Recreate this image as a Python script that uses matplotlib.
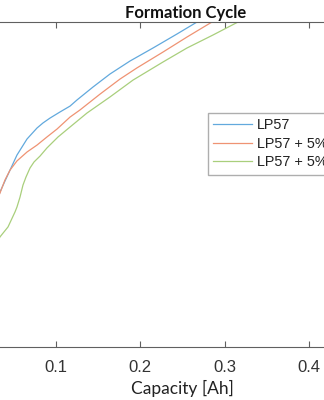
import matplotlib
matplotlib.use("Agg")
import matplotlib.pyplot as plt

# Capacity [Ah] and voltage [V]
cap_lp57 = [0.0225, 0.0343, 0.0402, 0.0462, 0.0544, 0.0663, 0.0781, 0.0852, 0.0935,
            0.1053, 0.1172, 0.1254, 0.1444, 0.1645, 0.1882, 0.2154, 0.2438, 0.2675, 0.2828]
v_lp57 = [3.215, 3.363, 3.417, 3.471, 3.545, 3.624, 3.678, 3.703, 3.727,
          3.757, 3.786, 3.816, 3.880, 3.944, 4.008, 4.072, 4.141, 4.200, 4.234]

cap_a = [0.0225, 0.0343, 0.0402, 0.0462, 0.0544, 0.0663, 0.0781, 0.0899, 0.1018,
         0.1172, 0.1290, 0.1527, 0.1763, 0.1964, 0.2272, 0.2556, 0.2852, 0.3006]
v_a = [3.250, 3.358, 3.422, 3.471, 3.516, 3.560, 3.594, 3.634, 3.673,
       3.732, 3.767, 3.845, 3.919, 3.974, 4.052, 4.126, 4.200, 4.234]

cap_b = [0.0225, 0.0343, 0.0438, 0.0521, 0.0544, 0.0580, 0.0615, 0.0651, 0.0698,
         0.0746, 0.0817, 0.0899, 0.1030, 0.1172, 0.1373, 0.1645, 0.1917, 0.2272,
         0.2556, 0.2864, 0.3160, 0.3302]
v_b = [3.053, 3.142, 3.191, 3.265, 3.289, 3.338, 3.397, 3.437, 3.481,
       3.511, 3.540, 3.580, 3.634, 3.683, 3.752, 3.831, 3.914, 4.003,
       4.072, 4.136, 4.200, 4.230]

labels = ["LP57", "LP57 + 5% FEC", "LP57 + 5% VC"]
colors = ["#62a9dd", "#ef9373", "#a9cf7c"]
xticks = [0.1, 0.2, 0.3, 0.4]

W, H = 324, 400
fig = plt.figure(figsize=(W / 100, H / 100), dpi=100)
# axes extends beyond the visible (cropped) region
left_px, right_px, top_px, bot_px = -29, -29 + 845 * 0.5, 22, 347
ax = fig.add_axes([left_px / W, 1 - bot_px / H, (right_px - left_px) / W, (bot_px - top_px) / H])

for c, v, lab, col in zip([cap_lp57, cap_a, cap_b], [v_lp57, v_a, v_b], labels, colors):
    ax.plot(c, v, color=col, lw=0.9, label=lab)

ax.set_xlim(0, 0.5)
ax.set_ylim(2.6, 4.2)
ax.set_xticks(xticks)
ax.set_xticklabels([f"{t:.1f}" for t in xticks])
ax.set_yticks([])
ax.tick_params(axis="x", direction="in", top=True, length=4, width=0.8,
               color="#606060", labelsize=12, labelcolor="#333333", pad=9)
for lab in ax.get_xticklabels():
    lab.set_family("Liberation Sans")
for s in ax.spines.values():
    s.set_color("#606060")
    s.set_linewidth(0.8)

ax.set_title("Formation Cycle", fontfamily="Lato", fontweight="bold", fontsize=12,
             color="#111111", pad=3, x=0.508)
ax.set_xlabel("Capacity [Ah]", fontfamily="Lato", fontsize=12.5, color="#222222", labelpad=4)

leg = ax.legend(loc="upper left", bbox_to_anchor=(208 / W, 1 - 113 / H),
                bbox_transform=fig.transFigure, borderaxespad=0,
                prop={"family": "Liberation Sans", "size": 10.4},
                handlelength=2.7, handletextpad=0.3, borderpad=0.36,
                labelspacing=0.32, frameon=True, fancybox=False)
leg.get_frame().set_edgecolor("#9a9a9a")
leg.get_frame().set_linewidth(1.0)
for t in leg.get_texts():
    t.set_color("#222222")

fig.savefig("out.png", dpi=100)
